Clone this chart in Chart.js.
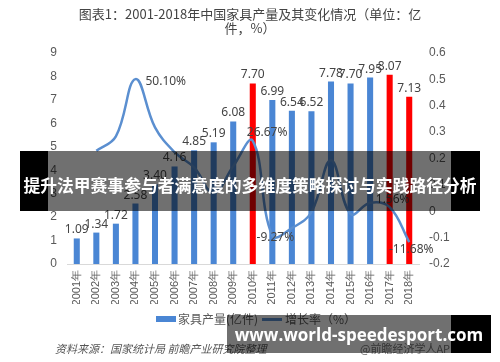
<!DOCTYPE html>
<html>
<head>
<meta charset="utf-8">
<script src="https://cdn.jsdelivr.net/npm/chart.js@4.4.1/dist/chart.umd.min.js"></script>
<style>
  html, body { margin: 0; padding: 0; background: #fff; }
  #wrap { position: relative; width: 500px; height: 362px; overflow: hidden; font-family: "Noto Sans CJK SC", "Noto Sans", sans-serif; }
  #chart { position: absolute; left: 0; top: 0; }
  .abs { position: absolute; white-space: nowrap; }
  #titulo { left: 0; width: 500px; top: 7px; text-align: center; font-size: 13px; line-height: 14px; color: #444; }
  .leyenda { top: 311px; font-size: 12px; color: #595959; line-height: 16px; }
  .fuente { top: 340px; font-size: 11px; color: #555; font-style: italic; }
  .banda { background: rgba(0,0,0,0.56); }
  .negro { background: #000; }
  .texto-banda { color: #fff; font-weight: bold; }
</style>
</head>
<body>
<div id="wrap">
  <canvas id="chart" width="500" height="362"></canvas>

  <div id="titulo" class="abs">图表1：2001-2018年中国家具产量及其变化情况（单位：亿<br>件，%）</div>

  <!-- leyenda -->
  <div class="abs" style="left:156px;top:316px;width:20px;height:6px;background:#4a86d4"></div>
  <div class="abs leyenda" style="left:178px">家具产量(亿件)</div>
  <div class="abs" style="left:262px;top:318px;width:20px;height:3px;background:#5b8fd0"></div>
  <div class="abs leyenda" style="left:285px">增长率（%）</div>

  <div class="abs fuente" style="left:55px">资料来源：国家统计局 前瞻产业研究院整理</div>
  <div class="abs fuente" style="left:360px;font-style:normal;color:#777">@前瞻经济学人APP</div>

  <!-- banda central -->
  <div class="abs banda" style="left:48px;top:151px;width:403px;height:60px"></div>
  <div class="abs negro" style="left:20px;top:151px;width:28px;height:60px"></div>
  <div class="abs negro" style="left:451px;top:151px;width:29px;height:60px"></div>
  <div class="abs texto-banda" style="left:20px;top:171px;width:460px;text-align:center;font-size:16.8px;line-height:28px">提升法甲赛事参与者满意度的多维度策略探讨与实践路径分析</div>

  <!-- banda inferior -->
  <div class="abs banda" style="left:227px;top:315px;width:224px;height:38px"></div>
  <div class="abs negro" style="left:451px;top:315px;width:40px;height:38px"></div>
  <div class="abs texto-banda" style="left:227px;top:322px;width:264px;text-align:center;font-size:17px;line-height:26px;font-family:'Open Sans', sans-serif">www.world-speedesport.com</div>
</div>

<script>
// ── DATOS ───────────────────────────────────────────────────
const anios = ['2001年', '2002年', '2003年', '2004年', '2005年', '2006年', '2007年', '2008年', '2009年',
  '2010年', '2011年', '2012年', '2013年', '2014年', '2015年', '2016年', '2017年', '2018年'];
const produccion = [1.09, 1.34, 1.72, 2.58, 3.40, 4.16, 4.85, 5.19, 6.08, 7.70, 6.99, 6.54, 6.52, 7.78, 7.70, 7.95, 8.07, 7.13];
const crecimiento = [null, 0.229, 0.284, 0.501, 0.318, 0.224, 0.166, 0.070, 0.171, 0.2667, -0.0927, -0.064, -0.003, 0.193, -0.010, 0.032, 0.0156, -0.1168];
const etiquetasCrec = { 3: '50.10%', 9: '26.67%', 10: '-9.27%', 16: '1.56%', 17: '-11.68%' };
const aniosRojos = ['2010年', '2017年', '2018年'];
const ticksIzq = [0, 9, 1];
const ticksDer = [-0.2, 0.6, 0.1];

const colores = {
  azul: '#4a86d4',
  rojo: '#ff0000',
  linea: '#5b8fd0',
  texto: '#444',
  eje: '#595959'
};

// posición de cada etiqueta de la línea respecto a su punto
const offsetsCrec = {
  3: { dx: 10, dy: 2, align: 'left' },
  9: { dx: -6, dy: -8, align: 'left' },
  10: { dx: 3, dy: 2, align: 'center' },
  16: { dx: 3, dy: -8, align: 'center' },
  17: { dx: 2, dy: 8, align: 'center' }
};

// ── ETIQUETAS DE DATOS ──────────────────────────────────────
const etiquetas = {
  id: 'etiquetas',
  afterDatasetsDraw(chart) {
    const ctx = chart.ctx;
    ctx.save();
    ctx.fillStyle = colores.texto;
    ctx.font = '12px "Noto Sans", sans-serif';
    ctx.textBaseline = 'alphabetic';
    ctx.textAlign = 'center';
    chart.getDatasetMeta(0).data.forEach((barra, i) => {
      ctx.fillText(produccion[i].toFixed(2), barra.x, barra.y - 5);
    });
    ctx.textBaseline = 'middle';
    chart.getDatasetMeta(1).data.forEach((p, i) => {
      if (!etiquetasCrec[i]) return;
      const o = offsetsCrec[i];
      ctx.textAlign = o.align;
      ctx.fillText(etiquetasCrec[i], p.x + o.dx, p.y + o.dy);
    });
    ctx.restore();
  }
};

// ── GRÁFICO ─────────────────────────────────────────────────
new Chart(document.getElementById('chart'), {
  data: {
    labels: anios,
    datasets: [{
      type: 'bar',
      label: '家具产量(亿件)',
      data: produccion,
      backgroundColor: anios.map(a => aniosRojos.includes(a) ? colores.rojo : colores.azul),
      barPercentage: 0.31,
      categoryPercentage: 1,
      yAxisID: 'y',
      order: 2
    }, {
      type: 'line',
      label: '增长率（%）',
      data: crecimiento,
      borderColor: colores.linea,
      borderWidth: 2.5,
      pointRadius: 0,
      tension: 0.4,
      spanGaps: false,
      yAxisID: 'y1',
      order: 1
    }]
  },
  options: {
    responsive: false,
    animation: false,
    layout: { padding: { top: 53, bottom: 58, left: 0, right: 0 } },
    plugins: { legend: { display: false }, tooltip: { enabled: false } },
    scales: {
      x: {
        grid: { display: false, drawTicks: false },
        border: { display: true, color: '#d9d9d9' },
        ticks: { color: colores.eje, font: { size: 11 }, maxRotation: 90, minRotation: 90, padding: 6, autoSkip: false },
        afterFit: s => { s.height = 40; }
      },
      y: {
        position: 'left',
        min: ticksIzq[0], max: ticksIzq[1],
        grid: { display: false, drawTicks: false },
        border: { display: false },
        ticks: { stepSize: ticksIzq[2], color: colores.eje, font: { size: 12 }, padding: 10 },
        afterFit: s => { s.width = 67; }
      },
      y1: {
        position: 'right',
        min: ticksDer[0], max: ticksDer[1],
        grid: { display: false, drawTicks: false },
        border: { display: false },
        ticks: { stepSize: ticksDer[2], color: colores.eje, font: { size: 12 }, padding: 10,
          callback: v => Number(v.toFixed(1)) },
        afterFit: s => { s.width = 81; }
      }
    }
  },
  plugins: [etiquetas]
});
</script>
</body>
</html>
